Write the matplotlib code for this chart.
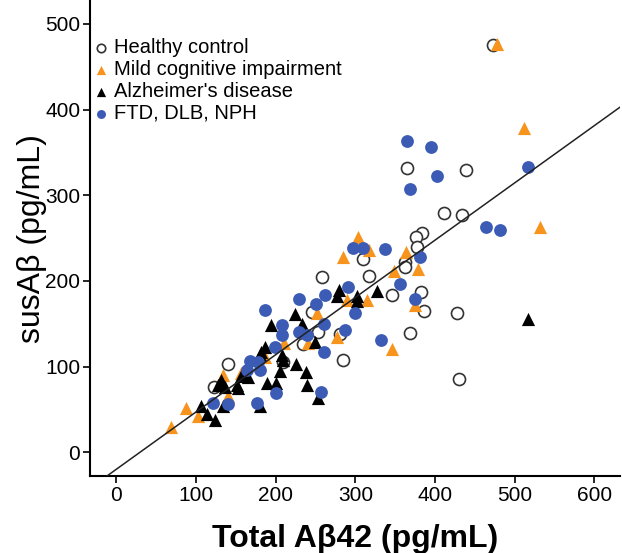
import numpy as np
import matplotlib
matplotlib.use("Agg")
import matplotlib.pyplot as plt

plt.rcParams['font.family'] = ['Liberation Sans', 'DejaVu Sans']

# values (pg/mL)
hc_x = [473, 364.6, 438.7, 411.8, 434.4, 383.4, 376, 377, 362.8, 362.8, 346, 382.5, 386.7, 427,
        368.7, 430, 310, 257.8, 317, 245, 253.5, 280.8, 234.7, 285, 209.5, 122, 140]
hc_y = [475, 332, 329, 278.8, 276.9, 255.5, 250.8, 239.8, 222, 216.5, 183.4, 187, 164.7, 162.8,
        139.4, 85, 225.5, 204, 206, 164, 140.5, 137.5, 125.8, 107.5, 105.5, 76, 103]

mci_x = [478, 512, 532, 363.7, 348.6, 379, 375, 346.5, 303, 317, 284, 314, 290, 251.5, 276.6,
         241, 186.6, 69, 87, 102, 140, 134, 157, 210]
mci_y = [477, 379, 263, 234, 211.8, 213.8, 171.7, 121, 251.5, 236, 228, 177.6, 177.6, 162, 134.7,
         127, 111.3, 29, 52, 42, 65.4, 90, 92, 128]

ad_x = [516.6, 327, 280, 276.6, 301.8, 302.5, 224.2, 193.7, 232.7, 249.4, 186.6, 207.5, 209.5,
        180, 205, 225, 237.7, 188.7, 201, 239.7, 252.8, 180, 106.4, 113.7, 123.7, 133.8, 153,
        151, 128, 136, 132, 157, 165.6, 182]
ad_y = [155.4, 188, 189, 182, 182, 176.8, 160.9, 148.4, 150, 128.9, 123, 113, 107.5, 113, 95,
        102.8, 93.8, 80.3, 80.3, 79, 62.7, 53.7, 53.7, 44, 38, 53.7, 74.4, 78, 78, 76, 84, 88.8,
        87.3, 117]

ftd_x = [364.6, 394.7, 402, 368.7, 516.6, 463.8, 481, 381, 337, 356, 375, 332, 297.5, 310, 290.4,
         262, 250.6, 229.7, 299.6, 186.6, 207.5, 261, 207.5, 229, 239, 287, 261, 199, 180, 200,
         257, 177, 121, 140, 167.7, 163.5, 178]
ftd_y = [363, 356, 322, 307.6, 333, 262.9, 260, 228, 236.8, 196, 178.4, 131, 238, 238, 193,
         183.4, 172.9, 179, 162.8, 166, 148.4, 149.5, 136.7, 139.8, 136.7, 142.5, 116.5, 122.3,
         95.8, 68.6, 70.5, 57.6, 57, 56, 106.6, 95.8, 105.5]

# regression line as drawn in the reference
fit_slope = 0.669
fit_intercept = -20

fig = plt.figure(figsize=(6.22, 5.53), dpi=100)
ax = fig.add_axes([0.1447, 0.139, 0.852, 0.861])

ms = 75
ax.scatter(hc_x, hc_y, s=ms, facecolors='white', edgecolors='#333333', linewidths=1.2,
           label='Healthy control', zorder=2)
ax.scatter(mci_x, mci_y, s=ms + 15, marker='^', color='#F7941D', linewidths=0,
           label='Mild cognitive impairment', zorder=3)
ax.scatter(ad_x, ad_y, s=ms + 15, marker='^', color='black', linewidths=0,
           label="Alzheimer's disease", zorder=4)
ax.scatter(ftd_x, ftd_y, s=ms + 10, color='#3B5BB5', linewidths=0,
           label='FTD, DLB, NPH', zorder=5)

ax.set_xlim(-33, 632)
ax.set_ylim(-28, 528)
x0 = (ax.get_ylim()[0] - fit_intercept) / fit_slope
xs = np.array([x0, ax.get_xlim()[1]])
ax.plot(xs, fit_slope * xs + fit_intercept, color='#222222', lw=1.1, zorder=6)

ax.set_xticks([0, 100, 200, 300, 400, 500, 600])
ax.set_yticks([0, 100, 200, 300, 400, 500])
ax.tick_params(labelsize=15, length=5, width=1.2, pad=2)
for s in ['top', 'right']:
    ax.spines[s].set_visible(False)
for s in ['left', 'bottom']:
    ax.spines[s].set_linewidth(1.5)

ax.set_xlabel('Total Aβ42 (pg/mL)', fontsize=23, fontweight='bold', labelpad=14)
ax.set_ylabel('susAβ (pg/mL)', fontsize=23, labelpad=-1)

ax.legend(loc='upper left', bbox_to_anchor=(-0.02, 0.95), frameon=False, fontsize=14.5,
          handlelength=0.7, handletextpad=0.3, labelspacing=0.15, borderaxespad=0.3,
          markerscale=0.7)

fig.savefig('out.png', dpi=100)
